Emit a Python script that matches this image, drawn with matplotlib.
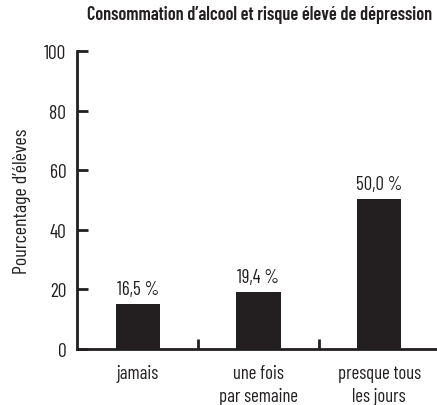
import matplotlib
matplotlib.use("Agg")
import matplotlib.pyplot as plt

plt.rcParams["font.family"] = ["Barlow Condensed", "Roboto Condensed", "DejaVu Sans"]
plt.rcParams["font.weight"] = 400

INK = "#231f20"

categories = ["jamais", "une fois\npar semaine", "presque tous\nles jours"]
bar_heights = [15.2, 19.3, 50.3]
value_labels = ["16,5 %", "19,4 %", "50,0 %"]
y_ticks = [0, 20, 40, 60, 80, 100]

fig = plt.figure(figsize=(4.37, 4.06), dpi=100)
ax = fig.add_axes([0.177, 0.138, 0.823, 0.733])

positions = range(len(categories))
ax.bar(positions, bar_heights, width=0.367, color=INK, zorder=2)
for x, h, lab in zip(positions, bar_heights, value_labels):
    ax.text(x, h + 2.0, lab, ha="center", va="bottom", fontsize=13.5, color=INK)

ax.set_xlim(-0.5, 2.48)
ax.set_ylim(0, 100)

ax.spines["top"].set_visible(False)
ax.spines["right"].set_visible(False)
for side in ("left", "bottom"):
    ax.spines[side].set_linewidth(2)
    ax.spines[side].set_color(INK)

ax.set_yticks(y_ticks)
ax.set_yticklabels([str(t) for t in y_ticks], fontsize=14, color=INK)
ax.tick_params(axis="y", direction="in", length=8, width=2, color=INK, pad=8)

# category ticks sit between the bars, labels sit under the bars
ax.set_xticks([0.5, 1.5])
ax.set_xticklabels([])
ax.tick_params(axis="x", direction="in", length=7, width=2, color=INK)
for x, cat in zip(positions, categories):
    ax.text(x, -5.0, cat, ha="center", va="top", fontsize=13.5, color=INK,
            linespacing=1.4, transform=ax.transData, clip_on=False)

ax.set_ylabel("Pourcentage d\u2019élèves", fontsize=14.5, color=INK, labelpad=9)

fig.text(0.593, 0.962, "Consommation d\u2019alcool et risque élevé de dépression",
         ha="center", va="center", fontsize=13.2, fontweight=600, color=INK)

fig.savefig("out.png", dpi=100)
